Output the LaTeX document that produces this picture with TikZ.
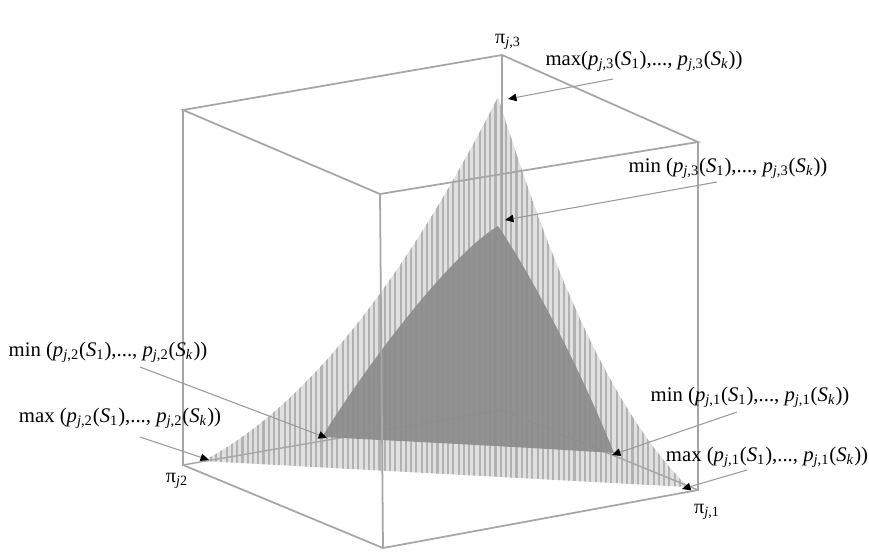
\documentclass[tikz,border=0pt]{standalone}
\usepackage{fontspec}
\setmainfont{Liberation Serif}
\usetikzlibrary{arrows.meta,patterns.meta}
\newcommand{\pj}[1]{\textit{p}\textsubscript{\textit{j},#1}}
\newcommand{\Sx}[1]{\textit{S}\textsubscript{#1}}

\begin{document}
\begin{tikzpicture}[
  x=0.02cm, y=-0.02cm,
  font=\fontsize{11.8}{14}\selectfont,
  edge/.style={draw=black!35, line width=1pt},
  backedge/.style={draw=black!35, line width=0.8pt},
  lab/.style={inner sep=0pt, anchor=center},
  axlab/.style={inner sep=0pt, font=\fontsize{11.5}{13}\selectfont},
  leader/.style={draw=black!40, line width=0.6pt, -{Triangle[length=1.7mm, width=1.5mm, color=black]}},
  outer/.style={preaction={fill=black!12}, pattern={Lines[angle=90, distance=3pt, line width=1.2pt]}, pattern color=black!30},
  inner/.style={fill=black!45, fill opacity=0.92}
]
\useasboundingbox (0,0) rectangle (869,555);

\coordinate (tl) at (183,110);
\coordinate (tb) at (502,55);
\coordinate (tr) at (698,142);
\coordinate (tf) at (380,194);
\coordinate (bl) at (183,465);
\coordinate (bf) at (383,548);
\coordinate (br) at (698,490);
\coordinate (bb) at (502,410);

\path[outer] (203,461) .. controls (320,400) and (420,250) .. (498,97)
  .. controls (540,230) and (600,400) .. (688,487) -- cycle;

\draw[backedge] (tb) -- (bb);
\draw[backedge] (bb) -- (bl);
\draw[backedge] (bb) -- (br);

\path[inner] (322,437) .. controls (370,360) and (450,255) .. (498,226)
  .. controls (535,280) and (585,380) .. (614,453)
  .. controls (520,447) and (420,442) .. cycle;

\draw[edge] (tl) -- (tb) -- (tr) -- (tf) -- cycle;
\draw[edge] (tl) -- (bl) -- (bf) -- (br) -- (tr);
\draw[edge] (tf) -- (bf);

\node[axlab] (pi3) at (508,42) {π\textsubscript{\textit{j},3}};
\node[axlab] (pi2) at (177,481) {π\textsubscript{\textit{j}2}};
\node[axlab] (pi1) at (707,512) {π\textsubscript{\textit{j},1}};

\node[lab] (max3) at (644,61) {max(\pj{3}(\Sx{1}),..., \pj{3}(\Sx{\textit{k}}))};
\node[lab] (min3) at (728,168) {min (\pj{3}(\Sx{1}),..., \pj{3}(\Sx{\textit{k}}))};
\node[lab] (min2) at (108,352) {min (\pj{2}(\Sx{1}),..., \pj{2}(\Sx{\textit{k}}))};
\node[lab] (max2) at (120,418) {max (\pj{2}(\Sx{1}),..., \pj{2}(\Sx{\textit{k}}))};
\node[lab] (min1) at (750,397) {min (\pj{1}(\Sx{1}),..., \pj{1}(\Sx{\textit{k}}))};
\node[lab] (max1) at (767,457) {max (\pj{1}(\Sx{1}),..., \pj{1}(\Sx{\textit{k}}))};

\coordinate (max3a) at (613,79);
\coordinate (max3b) at (508,99);
\coordinate (min3a) at (717,182);
\coordinate (min3b) at (505,220);
\coordinate (min2a) at (140,367);
\coordinate (min2b) at (327,438);
\coordinate (max2a) at (140,437);
\coordinate (max2b) at (209,460);
\coordinate (min1a) at (737,412);
\coordinate (min1b) at (612,455);
\coordinate (max1a) at (747,470);
\coordinate (max1b) at (682,489);

\draw[leader] (max3a) -- (max3b);
\draw[leader] (min3a) -- (min3b);
\draw[leader] (min2a) -- (min2b);
\draw[leader] (max2a) -- (max2b);
\draw[leader] (min1a) -- (min1b);
\draw[leader] (max1a) -- (max1b);
\end{tikzpicture}
\end{document}
